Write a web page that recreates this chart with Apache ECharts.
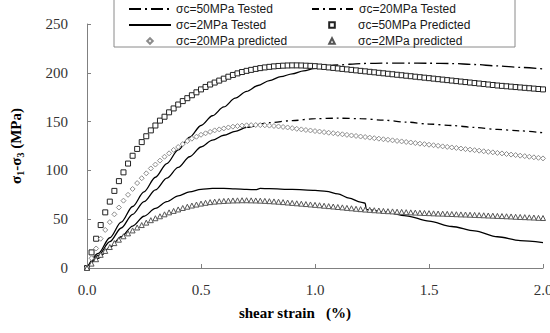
<!DOCTYPE html>
<html>
<head>
<meta charset="utf-8">
<script src="https://cdn.jsdelivr.net/npm/echarts@6/dist/echarts.min.js"></script>
<style>
  html, body { margin: 0; padding: 0; background: #fff; }
  #chart { width: 550px; height: 333px; }
</style>
</head>
<body>
<div id="chart"></div>
<script>
// Shear strain (%) at which the model (predicted) curves are plotted
const predStrain = [
  0, 0.02, 0.04, 0.06, 0.08, 0.1, 0.12, 0.14, 0.16, 0.18, 0.2, 0.22, 0.24, 0.26, 0.28, 0.3, 0.32, 0.34, 0.36, 0.38,
  0.4, 0.42, 0.44, 0.46, 0.48, 0.5, 0.52, 0.54, 0.56, 0.58, 0.6, 0.62, 0.64, 0.66, 0.68, 0.7, 0.72, 0.74, 0.76, 0.78,
  0.8, 0.82, 0.84, 0.86, 0.88, 0.9, 0.92, 0.94, 0.96, 0.98, 1, 1.02, 1.04, 1.06, 1.08, 1.1, 1.12, 1.14, 1.16, 1.18,
  1.2, 1.22, 1.24, 1.26, 1.28, 1.3, 1.32, 1.34, 1.36, 1.38, 1.4, 1.42, 1.44, 1.46, 1.48, 1.5, 1.52, 1.54, 1.56, 1.58,
  1.6, 1.62, 1.64, 1.66, 1.68, 1.7, 1.72, 1.74, 1.76, 1.78, 1.8, 1.82, 1.84, 1.86, 1.88, 1.9, 1.92, 1.94, 1.96, 1.98, 2
];
// sigma1 - sigma3 (MPa), predicted
const pred50 = [
  0, 16, 30, 44, 57, 68, 79, 89, 98, 107, 115, 122, 129, 135, 141, 146, 151, 155, 159.5, 163.5,
  167.5, 171, 174, 177, 180, 183, 185.5, 188, 190, 192, 194, 196, 197.8, 199.4, 200.8, 202, 203, 204, 204.8, 205.5,
  206.1, 206.6, 207, 207.3, 207.5, 207.6, 207.6, 207.5, 207.3, 207.1, 206.8, 206.4, 206, 205.5, 205, 204.5, 204, 203.5, 203, 202.5,
  202, 201.5, 201, 200.5, 200, 199.5, 199, 198.5, 198, 197.5, 197, 196.5, 196, 195.5, 195, 194.5, 194, 193.5, 193, 192.5,
  192, 191.5, 191, 190.5, 190, 189.5, 189, 188.5, 188, 187.5, 187, 186.6, 186.2, 185.8, 185.4, 185, 184.6, 184.2, 183.8, 183.4, 183
];
const pred20 = [
  0, 10, 20, 30, 39, 47, 55, 62, 69, 75, 81, 87, 92, 97, 102, 106, 110, 114, 117.5, 121,
  124, 127, 130, 132.5, 134.5, 136.5, 138, 139.5, 141, 142, 143, 144, 144.8, 145.4, 145.9, 146.2, 146.4, 146.5, 146.4, 146.2,
  145.9, 145.5, 145, 144.5, 144, 143.3, 142.6, 142, 141.4, 140.9, 140.3, 139.8, 139.2, 138.6, 138.1, 137.5, 137, 136.4, 135.8, 135.3,
  134.7, 134.2, 133.6, 133, 132.5, 131.9, 131.4, 130.8, 130.2, 129.7, 129.1, 128.6, 128, 127.4, 126.9, 126.3, 125.8, 125.2, 124.6, 124.1,
  123.5, 123, 122.4, 121.8, 121.3, 120.7, 120.2, 119.6, 119, 118.5, 117.9, 117.4, 116.8, 116.2, 115.7, 115.1, 114.6, 114, 113.4, 112.9, 112.3
];
const pred2 = [
  0, 4.5, 9, 13.5, 17.5, 21.5, 25.5, 29, 32.5, 35.5, 38.5, 41.5, 44, 46.5, 49, 51, 53, 55, 57, 58.5,
  60, 61.5, 62.8, 64, 65, 66, 66.8, 67.5, 68, 68.4, 68.7, 69, 69.2, 69.3, 69.4, 69.4, 69.3, 69.2, 69, 68.8,
  68.5, 68.2, 67.9, 67.5, 67.1, 66.7, 66.3, 65.9, 65.5, 65.1, 64.7, 64.3, 63.8, 63.4, 63, 62.5, 62.1, 61.6, 61.2, 60.7,
  60.3, 59.9, 59.6, 59.2, 58.9, 58.5, 58.2, 58, 57.7, 57.5, 57.2, 57, 56.8, 56.6, 56.4, 56.2, 56, 55.8, 55.7, 55.5,
  55.3, 55.1, 54.9, 54.8, 54.6, 54.4, 54.2, 54, 53.8, 53.6, 53.4, 53.2, 53, 52.8, 52.5, 52.3, 52.1, 51.9, 51.7, 51.4, 51.2
];

// Tested curves: the loading part reads as solid, the post-peak part as dash-dot
const test50RiseStrain = [0, 0.05, 0.1, 0.15, 0.2, 0.25, 0.3, 0.35, 0.4, 0.45, 0.5, 0.55, 0.6, 0.65, 0.7, 0.75, 0.8, 0.85, 0.9, 0.95, 1, 1.05];
const test50Rise = [0, 15, 31, 47, 63, 78, 93, 107, 121, 134, 146, 156, 165, 174, 181, 187, 192, 196, 199, 202, 204.5, 206.5];
const test50TailStrain = [1.05, 1.1, 1.2, 1.3, 1.4, 1.5, 1.6, 1.7, 1.8, 1.9, 2];
const test50Tail = [206.5, 208, 209.5, 210, 210, 209.8, 209.5, 208.5, 207, 205.5, 204];

const test20RiseStrain = [0, 0.05, 0.1, 0.15, 0.2, 0.25, 0.3, 0.35, 0.4, 0.45, 0.5, 0.55, 0.6, 0.65, 0.7, 0.75];
const test20Rise = [0, 13, 27, 41, 55, 68, 80, 92, 103, 114, 124, 131, 136, 140, 144, 147];
const test20TailStrain = [0.75, 0.8, 0.9, 1, 1.1, 1.2, 1.3, 1.4, 1.5, 1.6, 1.7, 1.8, 1.9, 2];
const test20Tail = [147, 149, 151, 153, 153.5, 153, 151.5, 149.5, 147.5, 146, 144, 142, 140.5, 138.5];

const test2Strain = [0, 0.05, 0.1, 0.15, 0.2, 0.25, 0.3, 0.35, 0.4, 0.45, 0.5, 0.55, 0.6, 0.65, 0.7, 0.74, 0.76, 0.8, 0.9, 1,
  1.05, 1.1, 1.15, 1.2, 1.22, 1.225, 1.3, 1.4, 1.5, 1.6, 1.7, 1.8, 1.9, 2];
const test2 = [0, 10, 21, 32, 43, 53, 61, 68, 74, 78, 80.5, 81.5, 81.5, 81, 80.5, 80.3, 81.5, 81.3, 80.5, 79.5,
  78.5, 76, 71.5, 67.5, 66.5, 60, 57.5, 53.5, 48, 42.5, 38, 32, 28, 26];

const legendNames = [
  'σc=50MPa Tested', 'σc=20MPa Tested',
  'σc=2MPa Tested', 'σc=50MPa Predicted',
  'σc=20MPa predicted', 'σc=2MPa predicted'
];
const xTicks = [0, 0.5, 1, 1.5, 2];

const pairs = (xs, ys) => xs.map((x, i) => [x, ys[i]]);
const serif = '"Liberation Serif", "Times New Roman", serif';
const axisGray = '#808080';

const testedLine = (name, xs, ys, dash) => ({
  name,
  type: 'line',
  data: pairs(xs, ys),
  symbol: 'none',
  smooth: 0.3,
  smoothMonotone: 'x',
  lineStyle: { color: '#000', width: 1.3, type: dash || 'solid' },
  itemStyle: { color: '#000' },
});

const predictedMarks = (name, ys, symbol, border) => ({
  name,
  type: 'line',
  data: pairs(predStrain, ys),
  symbol,
  symbolSize: 5,
  showSymbol: true,
  lineStyle: { width: 0, opacity: 0 },
  itemStyle: { color: '#fff', borderColor: border, borderWidth: 1 },
});

const chart = echarts.init(document.getElementById('chart'), null, { renderer: 'svg' });

chart.setOption({
  animation: false,
  backgroundColor: '#fff',
  grid: { left: 87, right: 7, top: 24, bottom: 65, outerBoundsMode: 'none', containLabel: false },
  legend: {
    data: legendNames.map((name, i) => (i < 3 ? { name, itemStyle: { opacity: 0 } } : { name })),
    left: 114,
    top: -7,
    width: 365,
    orient: 'horizontal',
    padding: [10, 25, 0, 14],
    itemGap: 4,
    itemWidth: 42,
    itemHeight: 7,
    borderColor: '#8a8a8a',
    borderWidth: 1,
    selectedMode: false,
    textStyle: {
      fontFamily: '"Liberation Sans", Arial, sans-serif',
      fontSize: 12,
      color: '#1a1a1a',
      width: 131,
      lineHeight: 12,
    },
  },
  xAxis: {
    type: 'value',
    min: 0,
    max: 2,
    interval: 0.5,
    name: 'shear strain   (%)',
    nameLocation: 'middle',
    nameGap: 37,
    nameTextStyle: {
      fontFamily: serif, fontWeight: 'bold', fontSize: 15, color: '#000',
      padding: [0, 40, 0, 0],
    },
    axisLine: { lineStyle: { color: axisGray, width: 1 } },
    axisTick: { inside: true, length: 4, lineStyle: { color: axisGray } },
    splitLine: { show: false },
    axisLabel: {
      margin: 14,
      fontFamily: serif, fontSize: 15, color: '#333',
      formatter: (v) => (xTicks.includes(v) ? v.toFixed(1) : ''),
    },
  },
  yAxis: {
    type: 'value',
    min: 0,
    max: 250,
    interval: 50,
    name: '{t|σ}{s|1}{t|-σ}{s|3}{t| (MPa)}',
    nameLocation: 'middle',
    nameGap: 62,
    nameTextStyle: {
      fontFamily: serif, fontWeight: 'bold', fontSize: 15, color: '#000',
      rich: {
        t: { fontFamily: serif, fontWeight: 'bold', fontSize: 15, color: '#000', lineHeight: 18 },
        s: { fontFamily: serif, fontWeight: 'bold', fontSize: 10, color: '#000', verticalAlign: 'bottom', lineHeight: 18 },
      },
    },
    axisLine: { show: true, lineStyle: { color: axisGray, width: 1 } },
    axisTick: { show: true, inside: true, length: 4, lineStyle: { color: axisGray } },
    splitLine: { show: false },
    axisLabel: { margin: 19, fontFamily: serif, fontSize: 15, color: '#333' },
  },
  series: [
    testedLine(legendNames[0], test50TailStrain, test50Tail, [12, 4, 2, 4]),
    testedLine(legendNames[0], test50RiseStrain, test50Rise),
    testedLine(legendNames[1], test20TailStrain, test20Tail, [7, 4, 2, 4]),
    testedLine(legendNames[1], test20RiseStrain, test20Rise),
    testedLine(legendNames[2], test2Strain, test2),
    predictedMarks(legendNames[3], pred50, 'rect', '#222'),
    predictedMarks(legendNames[4], pred20, 'diamond', '#8c8c8c'),
    predictedMarks(legendNames[5], pred2, 'triangle', '#555'),
  ],
});
</script>
</body>
</html>
